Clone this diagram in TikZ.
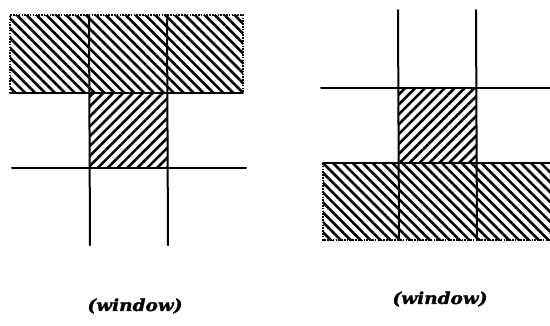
\documentclass[tikz,border=0pt]{standalone}
\usepackage{fontspec}
\newfontfamily\lblfont[FakeStretch=1.12,FakeBold=1.5]{DejaVu Serif}
\usetikzlibrary{patterns.meta}
\tikzset{
  gridline/.style={line width=2pt, line cap=round},
  dotline/.style={line width=2pt, dash pattern=on 1.5pt off 1.3pt},
  hatchnw/.style={pattern={Lines[angle=-45,distance=7pt,line width=2.6pt]}},
  hatchne/.style={pattern={Lines[angle=45,distance=7pt,line width=2.6pt]}},
  lbl/.style={font=\lblfont\bfseries\itshape\fontsize{16.5}{20}\selectfont, inner sep=0pt}
}
\begin{document}
\begin{tikzpicture}[x=1pt,y=-1pt]
\useasboundingbox (0,0) rectangle (550,325);
% ---- left figure ----
\fill[hatchnw] (10,15) rectangle (243,93);
\fill[hatchne] (89,93) rectangle (167,168);
\draw[dotline] (10,93) -- (10,15) -- (243,15) -- (243,93);
\draw[gridline] (10,93) -- (243,93);
\draw[gridline] (12,168) -- (246,168);
\draw[gridline] (89,15) -- (90,245);
\draw[gridline] (167,15) -- (168,245);
\node[lbl] (wl) at (135,306) {(window)};
% ---- right figure ----
\fill[hatchne] (398,88) rectangle (476,163);
\fill[hatchnw] (323,163) rectangle (552,240);
\draw[dotline] (323,163) -- (323,240) -- (552,240);
\draw[gridline] (323,163) -- (552,163);
\draw[gridline] (321,88) -- (552,88);
\draw[gridline] (398,10) -- (399,240);
\draw[gridline] (476,10) -- (477,240);
\node[lbl] (wr) at (440,299) {(window)};
\end{tikzpicture}
\end{document}
